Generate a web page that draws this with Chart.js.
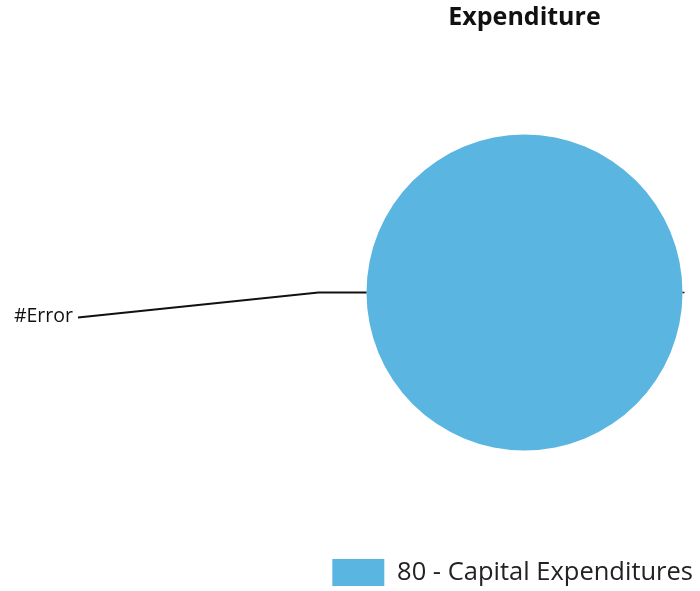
<!DOCTYPE html>
<html>
<head>
<meta charset="utf-8">
<script src="https://cdn.jsdelivr.net/npm/chart.js@4/dist/chart.umd.min.js"></script>
<style>
  html, body { margin: 0; padding: 0; background: #fff; }
  #wrap { width: 700px; height: 591px; }
</style>
</head>
<body>
<div id="wrap"><canvas id="myChart"></canvas></div>
<script>
const categories = ["80 - Capital Expenditures"];
const values = [1];
const sliceLabels = ["#Error"];
const sliceColors = ["#5bb5e1"];

Chart.defaults.font.family = "'Open Sans', 'Noto Sans', sans-serif";
Chart.defaults.color = "#222";

// reserve a gutter on the left for the outside slice labels
const labelGutter = {
  id: "labelGutter",
  beforeInit(chart) {
    Chart.layouts.addBox(chart, {
      position: "left",
      weight: 0,
      fullSize: false,
      options: {},
      width: 0,
      height: 0,
      isHorizontal() {
        return false;
      },
      update(maxWidth, maxHeight) {
        this.width = 349;
        this.height = maxHeight;
      },
      draw() {},
    });
  },
};

// leader line running from the left edge of the pie out to the slice label
const leaderLabels = {
  id: "leaderLabels",
  afterDatasetsDraw(chart) {
    const ctx = chart.ctx;
    const meta = chart.getDatasetMeta(0);
    meta.data.forEach((arc, i) => {
      const { x, y, outerRadius } = arc.getProps(["x", "y", "outerRadius"], true);
      const startX = x - outerRadius;
      const elbowX = startX - 48;
      const endX = 78;
      const endY = y + 25;
      ctx.save();
      ctx.strokeStyle = "#111";
      ctx.lineWidth = 2;
      ctx.beginPath();
      ctx.moveTo(startX, y);
      ctx.lineTo(elbowX, y);
      ctx.lineTo(endX, endY);
      ctx.stroke();
      // small tick on the far side
      ctx.lineWidth = 1.5;
      ctx.beginPath();
      ctx.moveTo(x + outerRadius, y);
      ctx.lineTo(x + outerRadius + 2, y);
      ctx.stroke();
      ctx.fillStyle = "#111";
      ctx.font = "19.5px 'Open Sans', sans-serif";
      ctx.textAlign = "right";
      ctx.textBaseline = "middle";
      ctx.fillText(sliceLabels[i], endX - 5, endY - 1);
      ctx.restore();
    });
  },
};

new Chart(document.querySelector("#myChart"), {
  type: "pie",
  data: {
    labels: categories,
    datasets: [
      {
        data: values,
        backgroundColor: sliceColors,
        borderWidth: 0,
        radius: 158,
      },
    ],
  },
  options: {
    responsive: true,
    maintainAspectRatio: false,
    animation: false,
    layout: {
      padding: { left: 0, right: 0, top: 0, bottom: -5 },
    },
    plugins: {
      title: {
        display: true,
        fullSize: false,
        text: "Expenditure",
        color: "#111",
        font: { size: 25, weight: "bold" },
        padding: { top: 3, bottom: 0 },
      },
      legend: {
        position: "bottom",
        align: "end",
        labels: {
          boxWidth: 52,
          boxHeight: 27,
          padding: 7,
          color: "#222",
          font: { size: 25.5 },
        },
      },
      tooltip: { enabled: false },
    },
  },
  plugins: [labelGutter, leaderLabels],
});
</script>
</body>
</html>
